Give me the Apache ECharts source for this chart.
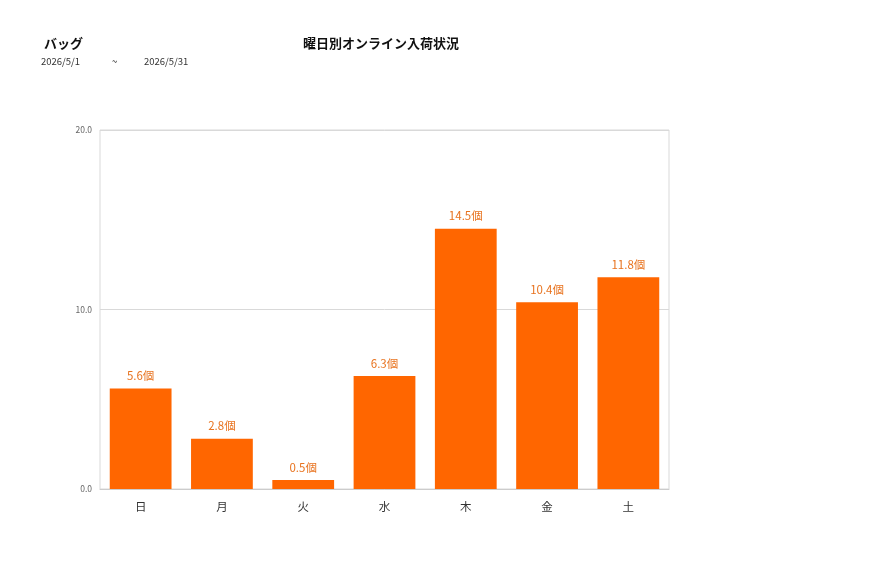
<!DOCTYPE html>
<html>
<head>
<meta charset="utf-8">
<script src="https://cdn.jsdelivr.net/npm/echarts@6/dist/echarts.min.js"></script>
<style>
html, body { margin: 0; padding: 0; background: #fff; }
#main { width: 877px; height: 578px; }
</style>
</head>
<body>
<div id="main"></div>
<script>
// 曜日
var days = ['日', '月', '火', '水', '木', '金', '土'];
// 個数
var counts = [5.6, 2.8, 0.5, 6.3, 14.5, 10.4, 11.8];
var yTicks = [0, 10, 20];

var fontFamily = '"Noto Sans CJK JP", "Noto Sans", sans-serif';

var chart = echarts.init(document.getElementById('main'));
var option = {
	animation : false,
	textStyle : {
		fontFamily : fontFamily
	},
	title : [ {
		text : '曜日別オンライン入荷状況',
		left : 376,
		top : 32,
		textAlign : 'center',
		textStyle : {
			fontSize : 13,
			fontWeight : 'bold',
			color : '#111'
		}
	}, {
		text : 'バッグ',
		left : 39,
		top : 32,
		textStyle : {
			fontSize : 13,
			fontWeight : 'bold',
			color : '#111'
		}
	} ],
	graphic : [ {
		type : 'text',
		left : 41,
		top : 57,
		style : { text : '2026/5/1', fontSize : 9.5, fill : '#333', fontFamily : fontFamily }
	}, {
		type : 'text',
		left : 112,
		top : 57,
		style : { text : '~', fontSize : 9.5, fill : '#333', fontFamily : fontFamily }
	}, {
		type : 'text',
		left : 144,
		top : 57,
		style : { text : '2026/5/31', fontSize : 9.5, fill : '#333', fontFamily : fontFamily }
	} ],
	grid : {
		left : 100,
		right : 208,
		top : 130,
		bottom : 89,
		show : true,
		borderColor : '#d9d9d9',
		borderWidth : 1
	},
	xAxis : {
		type : 'category',
		data : days,
		axisLine : { lineStyle : { color : '#ccc' } },
		axisTick : { show : false },
		axisLabel : { color : '#333', fontSize : 11.5, margin : 12 }
	},
	yAxis : {
		type : 'value',
		min : yTicks[0],
		max : yTicks[yTicks.length - 1],
		interval : 10,
		axisLine : { show : false },
		axisTick : { show : false },
		splitLine : { lineStyle : { color : '#d9d9d9' } },
		axisLabel : {
			color : '#666',
			fontSize : 8.5,
			margin : 8,
			formatter : function(v) { return v.toFixed(1); }
		}
	},
	series : [ {
		type : 'bar',
		data : counts,
		barWidth : '76%',
		itemStyle : { color : '#ff6600' },
		label : {
			show : true,
			position : 'top',
			distance : 7,
			color : '#e8731f',
			fontSize : 11.5,
			formatter : function(p) { return p.value.toFixed(1) + '個'; }
		}
	} ]
};
chart.setOption(option);
</script>
</body>
</html>
